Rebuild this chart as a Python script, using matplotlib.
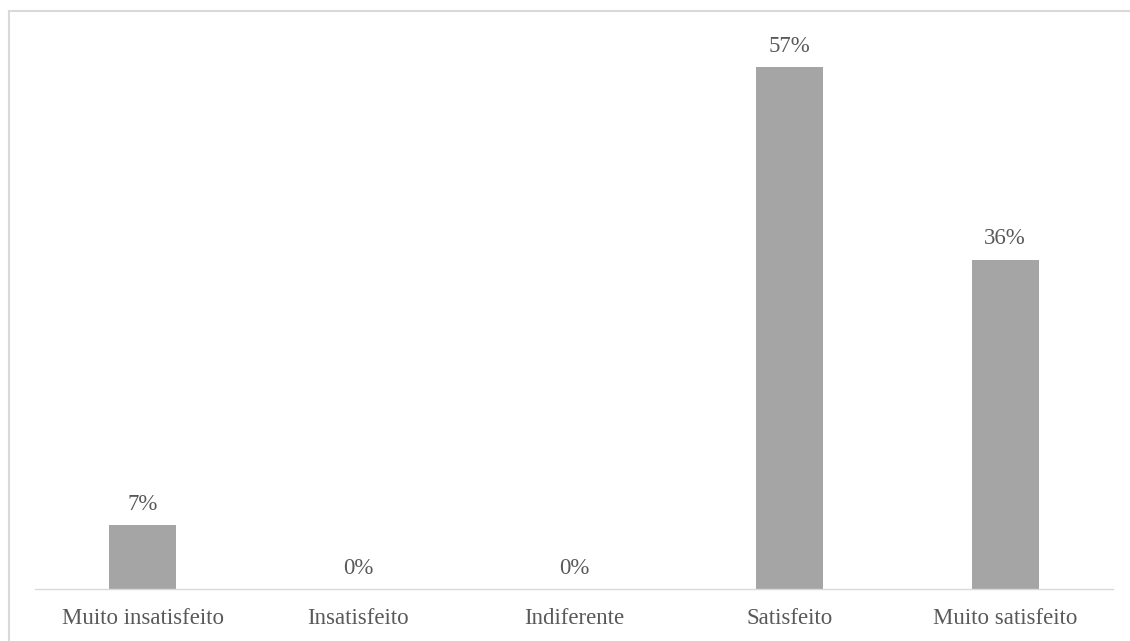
import matplotlib
matplotlib.use("Agg")
import matplotlib.pyplot as plt
from matplotlib.patches import Rectangle

categories = ["Muito insatisfeito", "Insatisfeito", "Indiferente", "Satisfeito", "Muito satisfeito"]
values = [7, 0, 0, 57, 36]
labels = ["7%", "0%", "0%", "57%", "36%"]

plt.rcParams['font.family'] = ['Liberation Serif', 'DejaVu Serif']

text_color = '#595959'
bar_color = '#A5A5A5'
line_color = '#D9D9D9'

fig = plt.figure(figsize=(11.3, 6.41), dpi=100)
ax = fig.add_axes([35 / 1130, 1 - 589 / 641, 1078 / 1130, 549 / 641])

x = range(len(categories))
bars = ax.bar(x, values, width=0.31, color=bar_color, zorder=2)

for b, lab in zip(bars, labels):
    ax.annotate(lab, (b.get_x() + b.get_width() / 2, b.get_height()),
                xytext=(0, 7.5), textcoords='offset points',
                ha='center', va='bottom', fontsize=16.5, color=text_color)

ax.set_xlim(-0.5, len(categories) - 0.5)
ax.set_ylim(0, 60)
ax.set_xticks(list(x))
ax.set_xticklabels(categories, fontsize=16.5, color=text_color)
ax.tick_params(axis='x', length=0, pad=14)
ax.set_yticks([])
for side in ['top', 'left', 'right']:
    ax.spines[side].set_visible(False)
ax.spines['bottom'].set_color(line_color)
ax.spines['bottom'].set_linewidth(1.0)

# outer chart frame, open at right and bottom edges
fig.add_artist(Rectangle((9 / 1130, -0.1), 1.2, 1 - 11 / 641 + 0.1,
                         transform=fig.transFigure, fill=False,
                         edgecolor=line_color, linewidth=1.5))

fig.savefig('out.png', dpi=100)
